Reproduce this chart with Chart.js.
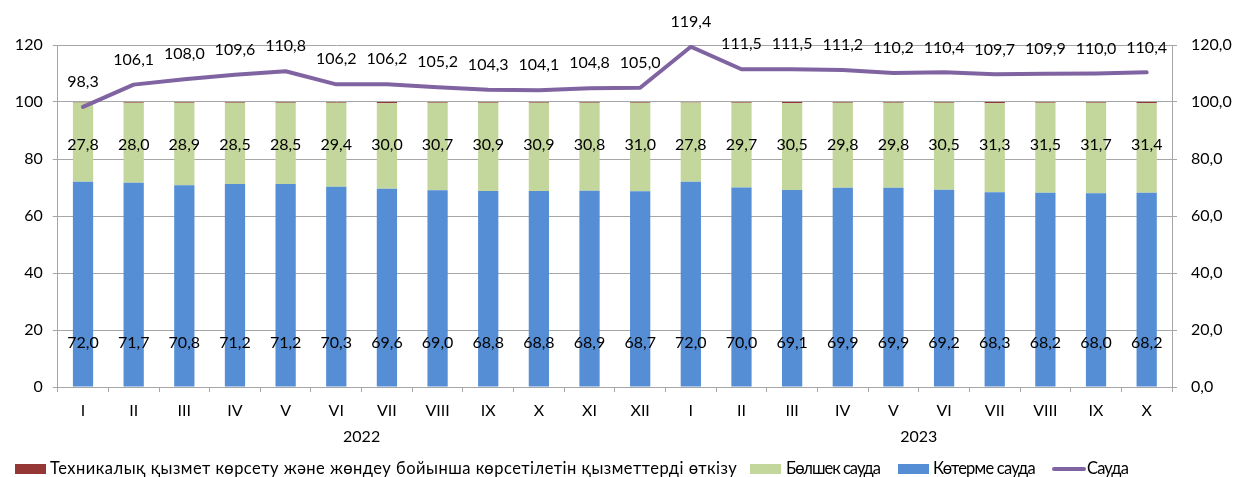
<!DOCTYPE html>
<html>
<head>
<meta charset="utf-8">
<script src="https://cdn.jsdelivr.net/npm/chart.js@4/dist/chart.umd.min.js"></script>
<style>
html,body{margin:0;padding:0;background:#fff;}
canvas{display:block;}
</style>
</head>
<body>
<canvas id="c" width="1237" height="477"></canvas>
<script>
const months = ['I','II','III','IV','V','VI','VII','VIII','IX','X','XI','XII','I','II','III','IV','V','VI','VII','VIII','IX','X'];
const years = ['2022','2023'];
const yearCounts = [12,10];
const wholesale = [72.0,71.7,70.8,71.2,71.2,70.3,69.6,69.0,68.8,68.8,68.9,68.7,72.0,70.0,69.1,69.9,69.9,69.2,68.3,68.2,68.0,68.2];
const retail = [27.8,28.0,28.9,28.5,28.5,29.4,30.0,30.7,30.9,30.9,30.8,31.0,27.8,29.7,30.5,29.8,29.8,30.5,31.3,31.5,31.7,31.4];
const service = [0.2,0.3,0.3,0.3,0.3,0.3,0.4,0.3,0.3,0.3,0.3,0.3,0.2,0.3,0.4,0.3,0.3,0.3,0.4,0.3,0.3,0.4];
const trade = [98.3,106.1,108.0,109.6,110.8,106.2,106.2,105.2,104.3,104.1,104.8,105.0,119.4,111.5,111.5,111.2,110.2,110.4,109.7,109.9,110.0,110.4];
const leftTicks = [0,20,40,60,80,100,120];
const seriesNames = ['Техникалық қызмет көрсету және жөндеу бойынша көрсетілетін қызметтерді өткізу','Бөлшек сауда','Көтерме сауда','Сауда'];

const FONT = 'Lato, "Open Sans", sans-serif';
const fmt = v => v.toFixed(1).replace('.', ',');
const GRID = '#a6a6a6';
const COLORS = {service:'#953735', retail:'#c3d69b', wholesale:'#558ed5', trade:'#8064a2'};

const labelsPlugin = {
  id: 'labelsPlugin',
  afterDatasetsDraw(chart) {
    const ctx = chart.ctx;
    const x = chart.scales.x, y = chart.scales.y;
    ctx.save();
    ctx.fillStyle = '#000';
    ctx.font = '16px ' + FONT;
    ctx.textAlign = 'center';
    ctx.textBaseline = 'middle';
    const lineMeta = chart.getDatasetMeta(3);
    for (let i = 0; i < months.length; i++) {
      const cx = x.getPixelForValue(i);
      ctx.fillText(fmt(wholesale[i]), cx, y.getPixelForValue(15.4));
      ctx.fillText(fmt(retail[i]), cx, y.getPixelForValue(84.9));
      const pt = lineMeta.data[i];
      ctx.fillText(fmt(trade[i]), pt.x, pt.y - 25);
    }
    // year labels
    let start = 0;
    for (let k = 0; k < years.length; k++) {
      const end = start + yearCounts[k] - 1;
      const cx = (x.getPixelForValue(start) + x.getPixelForValue(end)) / 2;
      ctx.fillText(years[k], cx, 437);
      start = end + 1;
    }
    // legend
    const ly = 469;
    ctx.textAlign = 'left';
    const items = [
      {type:'box', color:COLORS.service, bx:15, tx:50, w:687},
      {type:'box', color:COLORS.retail, bx:750, tx:786, w:94},
      {type:'box', color:COLORS.wholesale, bx:898, tx:933, w:102},
      {type:'line', color:COLORS.trade, bx:1052, tx:1087, w:41}
    ];
    items.forEach((it, idx) => {
      if (it.type === 'box') {
        ctx.fillStyle = it.color;
        ctx.fillRect(it.bx, ly - 5, 31, 10);
      } else {
        ctx.strokeStyle = it.color;
        ctx.lineWidth = 4;
        ctx.lineCap = 'round';
        ctx.beginPath();
        ctx.moveTo(it.bx + 2, ly);
        ctx.lineTo(it.bx + 32, ly);
        ctx.stroke();
      }
      ctx.fillStyle = '#000';
      ctx.font = '16.5px ' + FONT;
      ctx.letterSpacing = '0px';
      const txt = seriesNames[idx];
      const mw = ctx.measureText(txt).width;
      const ls = (it.w - mw) / txt.length;
      ctx.letterSpacing = Math.max(-1, Math.min(1.5, ls)).toFixed(2) + 'px';
      ctx.fillText(txt, it.tx, ly);
      ctx.letterSpacing = '0px';
    });
    ctx.restore();
  }
};

new Chart(document.getElementById('c'), {
  data: {
    labels: months,
    datasets: [
      {type:'bar', label: seriesNames[2], data: wholesale, backgroundColor: COLORS.wholesale, stack:'s', order:1, yAxisID:'y', barPercentage:0.4, categoryPercentage:1.0},
      {type:'bar', label: seriesNames[1], data: retail, backgroundColor: COLORS.retail, stack:'s', order:1, yAxisID:'y', barPercentage:0.4, categoryPercentage:1.0},
      {type:'bar', label: seriesNames[0], data: service, backgroundColor: COLORS.service, stack:'s', order:1, yAxisID:'y', barPercentage:0.4, categoryPercentage:1.0},
      {type:'line', label: seriesNames[3], data: trade, borderColor: COLORS.trade, borderWidth:4, pointRadius:0, tension:0, order:0, yAxisID:'y2', borderCapStyle:'round', borderJoinStyle:'round'}
    ]
  },
  options: {
    responsive: false,
    animation: false,
    layout: {padding: {top: 45, left: 0, right: 0, bottom: 0}},
    plugins: {legend: {display:false}, tooltip: {enabled:false}},
    scales: {
      x: {
        stacked: true,
        offset: true,
        grid: {offset: true, drawOnChartArea: false, color: GRID, tickLength: 5, lineWidth: 1},
        border: {color: GRID},
        ticks: {color:'#000', font:{family:FONT, size:16}, padding: 9, maxRotation:0, autoSkip:false},
        afterFit(s){ s.height = 90; }
      },
      y: {
        stacked: true,
        position: 'left',
        min: 0, max: 120,
        afterBuildTicks(s){ s.ticks = leftTicks.map(v => ({value:v})); },
        grid: {color: GRID, tickLength: 5, lineWidth: 1},
        border: {color: GRID},
        ticks: {color:'#000', font:{family:FONT, size:16}, padding: 10},
        afterFit(s){ s.width = 57.7; }
      },
      y2: {
        position: 'right',
        min: 0, max: 120,
        afterBuildTicks(s){ s.ticks = leftTicks.map(v => ({value:v})); },
        grid: {drawOnChartArea: false, color: GRID, tickLength: 5},
        border: {color: GRID},
        ticks: {color:'#000', font:{family:FONT, size:16}, padding: 14, callback: v => fmt(v)},
        afterFit(s){ s.width = 65; }
      }
    }
  },
  plugins: [labelsPlugin]
});
</script>
</body>
</html>
